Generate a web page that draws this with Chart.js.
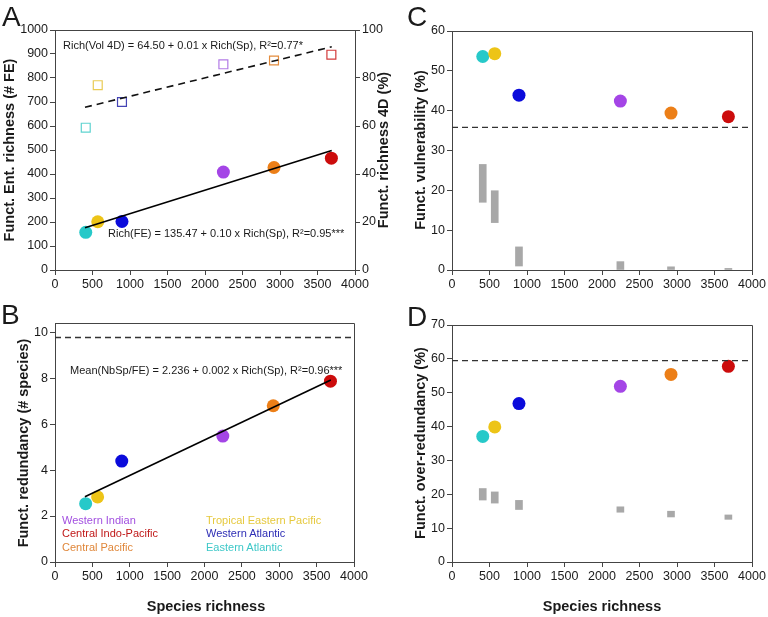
<!DOCTYPE html>
<html>
<head>
<meta charset="utf-8">
<script src="https://cdn.jsdelivr.net/npm/chart.js@4.4.1/dist/chart.umd.min.js"></script>
<style>
  body { margin: 0; background: #fff; }
  #wrap { position: relative; width: 768px; height: 617px; overflow: hidden;
          font-family: "Liberation Sans", Arial, sans-serif; color: #1a1a1a; }
  canvas { position: absolute; }
  .lbl { position: absolute; white-space: nowrap; }
  .panel { font-size: 28px; line-height: 28px; }
  .ytitle { font-weight: bold; font-size: 14.5px; transform: translate(-50%, -50%) rotate(-90deg); }
  .xtitle { font-weight: bold; font-size: 14.5px; transform: translate(-50%, -50%); }
  .note { font-size: 11px; line-height: 13px; }
</style>
</head>
<body>
<div id="wrap">
  <canvas id="chartA" width="384" height="300" style="left:0;top:0"></canvas>
  <canvas id="chartC" width="384" height="300" style="left:384px;top:0"></canvas>
  <canvas id="chartB" width="384" height="317" style="left:0;top:300px"></canvas>
  <canvas id="chartD" width="384" height="317" style="left:384px;top:300px"></canvas>

  <div class="lbl panel" style="left:2px;top:3px">A</div>
  <div class="lbl panel" style="left:407px;top:3px">C</div>
  <div class="lbl panel" style="left:1px;top:301px">B</div>
  <div class="lbl panel" style="left:407px;top:303px">D</div>

  <div class="lbl ytitle" style="left:9px;top:150px">Funct. Ent. richness (# FE)</div>
  <div class="lbl ytitle" style="left:383px;top:150px">Funct. richness 4D (%)</div>
  <div class="lbl ytitle" style="left:420px;top:150px">Funct. vulnerability (%)</div>
  <div class="lbl ytitle" style="left:23px;top:443px">Funct. redundancy (# species)</div>
  <div class="lbl ytitle" style="left:420px;top:443px">Funct. over-redundancy (%)</div>
  <div class="lbl xtitle" style="left:206px;top:606px">Species richness</div>
  <div class="lbl xtitle" style="left:602px;top:606px">Species richness</div>

  <div class="lbl note" style="left:63px;top:39px">Rich(Vol 4D) = 64.50 + 0.01 x Rich(Sp), R²=0.77*</div>
  <div class="lbl note" style="left:108px;top:227px">Rich(FE) = 135.47 + 0.10 x Rich(Sp), R²=0.95***</div>
  <div class="lbl note" style="left:70px;top:364px">Mean(NbSp/FE) = 2.236 + 0.002 x Rich(Sp), R²=0.96***</div>

  <div class="lbl note" style="left:62px;top:514px;color:#a24fe0">Western Indian</div>
  <div class="lbl note" style="left:62px;top:527px;color:#c01818">Central Indo-Pacific</div>
  <div class="lbl note" style="left:62px;top:541px;color:#e0873a">Central Pacific</div>
  <div class="lbl note" style="left:206px;top:514px;color:#e6c93e">Tropical Eastern Pacific</div>
  <div class="lbl note" style="left:206px;top:527px;color:#2d2db5">Western Atlantic</div>
  <div class="lbl note" style="left:206px;top:541px;color:#3dc8c8">Eastern Atlantic</div>
</div>

<script>
// regions in order: EA, TEP, WA, WI, CP, CIP
const regions = ['Eastern Atlantic', 'Tropical Eastern Pacific', 'Western Atlantic', 'Western Indian', 'Central Pacific', 'Central Indo-Pacific'];
const speciesRichness = [410, 570, 893, 2245, 2920, 3685];

// panel A
const feRichness = [157, 201, 202, 408, 427, 466];
const vol4D = [59.3, 77, 70, 85.7, 87.3, 89.7];
const fitX = [400, 3690];
const feFit = [176, 498];
const volFit = [67.8, 93.0];

// panel B
const redundancy = [2.54, 2.83, 4.39, 5.48, 6.80, 7.87];
const redundancyFit = [2.84, 7.92];
const redundancyRef = 9.77;
const redundancyTicks = [0, 2, 4, 6, 8, 10];

// panel C
const vulnerability = [53.6, 54.3, 43.9, 42.4, 39.4, 38.5];
const vulnNullLow = [17.0, 11.9, 1.0, 0, 0, 0];
const vulnNullHigh = [26.5, 19.9, 5.8, 2.1, 0.8, 0.4];
const vulnRef = 35.8;

// panel D
const overRedundancy = [37.1, 39.9, 46.8, 51.9, 55.4, 57.8];
const overNullLow = [18.3, 17.4, 15.5, 14.7, 13.3, 12.6];
const overNullHigh = [21.7, 20.7, 18.2, 16.3, 15.0, 13.9];
const overRef = 59.5;

const xTicks = { min: 0, max: 4000, step: 500 };

const regionColors = ['#27c9c9', '#edc417', '#0b0bdb', '#a445e6', '#ec7f18', '#cc0c0c'];
const squareColors = ['#5fd3d0', '#e9cb55', '#4444b5', '#b27be6', '#e48c3d', '#d23b3b'];
const axisColor = '#444';
const tickColor = '#1a1a1a';

Chart.defaults.font.family = '"Liberation Sans", Arial, sans-serif';
Chart.defaults.animation = false;

const boxFrame = {
  id: 'boxFrame',
  beforeDatasetsDraw(chart) {
    const a = chart.chartArea;
    const ctx = chart.ctx;
    const al = v => Math.round(v - 0.5) + 0.5;
    ctx.save();
    ctx.strokeStyle = axisColor;
    ctx.lineWidth = 1;
    ctx.beginPath();
    ctx.moveTo(al(a.left), al(a.top));
    ctx.lineTo(al(a.right), al(a.top));
    ctx.lineTo(al(a.right), al(a.bottom));
    ctx.stroke();
    ctx.restore();
  }
};

function xAxis(h) {
  return {
    type: 'linear', min: xTicks.min, max: xTicks.max, offset: false,
    ticks: { stepSize: xTicks.step, color: tickColor, font: { size: 12.5 }, padding: 2, maxRotation: 0, autoSkip: false, callback: v => String(v) },
    grid: { drawOnChartArea: false, offset: false, color: axisColor, tickLength: 5 },
    border: { color: axisColor },
    afterFit: s => { s.height = h; }
  };
}

function yAxis(min, max, step, w, pos) {
  return {
    type: 'linear', position: pos || 'left', min: min, max: max,
    ticks: { stepSize: step, color: tickColor, font: { size: 12.5 }, padding: 2, callback: v => String(v) },
    grid: { drawOnChartArea: false, offset: false, color: axisColor, tickLength: 5 },
    border: { color: axisColor },
    afterFit: s => { s.width = w; }
  };
}

function points(ys, axisId) {
  return {
    type: 'scatter',
    data: speciesRichness.map((x, i) => ({ x: x, y: ys[i] })),
    yAxisID: axisId || 'y',
    pointRadius: 6.5,
    pointBackgroundColor: regionColors,
    pointBorderWidth: 0,
    order: 1
  };
}

function line(xs, ys, dashed, axisId) {
  return {
    type: 'line',
    data: xs.map((x, i) => ({ x: x, y: ys[i] })),
    yAxisID: axisId || 'y',
    borderColor: dashed ? '#111' : '#000',
    borderWidth: 1.6,
    borderDash: dashed ? [7, 5] : [],
    pointRadius: 0,
    fill: false,
    order: 0
  };
}

function refLine(y) {
  return {
    type: 'line',
    data: [{ x: xTicks.min, y: y }, { x: xTicks.max, y: y }],
    borderColor: '#333',
    borderWidth: 1.3,
    borderDash: [6, 4],
    pointRadius: 0,
    fill: false,
    order: 0
  };
}

function nullBars(lo, hi) {
  return {
    type: 'bar',
    data: lo.map((v, i) => ({ x: speciesRichness[i], y: [v, hi[i]] })),
    backgroundColor: '#a8a8a8',
    barThickness: 7,
    order: 2
  };
}

function makeChart(id, datasets, scales, padding) {
  return new Chart(document.getElementById(id), {
    type: 'scatter',
    data: { datasets: datasets },
    options: {
      responsive: false,
      layout: { padding: padding },
      scales: scales,
      plugins: { legend: { display: false }, tooltip: { enabled: false } },
      events: []
    },
    plugins: [boxFrame]
  });
}

// A
makeChart('chartA', [
  line(fitX, feFit, false),
  line(fitX, volFit, true, 'y2'),
  points(feRichness),
  {
    type: 'scatter',
    data: speciesRichness.map((x, i) => ({ x: x, y: vol4D[i] })),
    yAxisID: 'y2',
    pointStyle: 'rect',
    pointRadius: 6.3,
    pointBackgroundColor: 'rgba(255,255,255,0)',
    pointBorderColor: squareColors,
    pointBorderWidth: 1.2,
    order: 1
  }
], {
  x: xAxis(30),
  y: yAxis(0, 1000, 100, 55),
  y2: yAxis(0, 100, 20, 29, 'right')
}, { top: 30, right: 0, left: 0, bottom: 0 });

// C
makeChart('chartC', [
  refLine(vulnRef),
  points(vulnerability),
  nullBars(vulnNullLow, vulnNullHigh)
], {
  x: xAxis(30),
  y: yAxis(0, 60, 10, 68)
}, { top: 31, right: 16, left: 0, bottom: 0 });

// B
const yB = yAxis(0, 10.4, 2, 55);
yB.afterBuildTicks = s => { s.ticks = redundancyTicks.map(v => ({ value: v })); };
makeChart('chartB', [
  line(fitX, redundancyFit, false),
  refLine(redundancyRef),
  points(redundancy)
], {
  x: xAxis(55),
  y: yB
}, { top: 23, right: 30, left: 0, bottom: 0 });

// D
makeChart('chartD', [
  refLine(overRef),
  points(overRedundancy),
  nullBars(overNullLow, overNullHigh)
], {
  x: xAxis(55),
  y: yAxis(0, 70, 10, 68)
}, { top: 25, right: 16, left: 0, bottom: 0 });
</script>
</body>
</html>
